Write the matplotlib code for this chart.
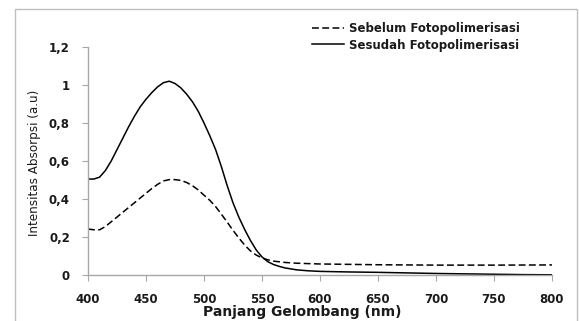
import numpy as np
import matplotlib
matplotlib.use('Agg')
import matplotlib.pyplot as plt
from matplotlib.ticker import FuncFormatter
from matplotlib.patches import Rectangle

# wavelength (nm) and absorption intensity (a.u)
wl_before = [400, 405, 410, 415, 420, 425, 430, 435, 440, 445, 450, 455, 460, 465,
             470, 475, 480, 485, 490, 495, 500, 505, 510, 515, 520, 525, 530, 535,
             540, 545, 550, 555, 560, 570, 580, 600, 650, 700, 750, 800]
abs_before = [0.242, 0.238, 0.238, 0.255, 0.28, 0.305, 0.33, 0.355, 0.38, 0.405,
              0.43, 0.455, 0.477, 0.495, 0.502, 0.502, 0.498, 0.487, 0.47, 0.448,
              0.42, 0.393, 0.36, 0.32, 0.278, 0.235, 0.195, 0.158, 0.127, 0.105,
              0.09, 0.08, 0.073, 0.066, 0.062, 0.058, 0.054, 0.052, 0.052, 0.053]

wl_after = [400, 405, 410, 415, 420, 425, 430, 435, 440, 445, 450, 455, 460, 465,
            470, 475, 480, 485, 490, 495, 500, 505, 510, 515, 520, 525, 530, 535,
            540, 545, 550, 555, 560, 565, 570, 580, 590, 600, 625, 650, 675, 700,
            725, 750, 775, 800]
abs_after = [0.505, 0.505, 0.515, 0.55, 0.60, 0.66, 0.72, 0.78, 0.835, 0.885,
             0.925, 0.96, 0.99, 1.012, 1.02, 1.008, 0.985, 0.952, 0.912, 0.862,
             0.80, 0.733, 0.66, 0.57, 0.47, 0.38, 0.305, 0.24, 0.182, 0.132,
             0.095, 0.07, 0.055, 0.045, 0.037, 0.027, 0.022, 0.019, 0.016, 0.014,
             0.011, 0.008, 0.006, 0.004, 0.002, 0.001]

labels = ['Sebelum Fotopolimerisasi', 'Sesudah Fotopolimerisasi']
xticks = [400, 450, 500, 550, 600, 650, 700, 750, 800]
yticks = [0, 0.2, 0.4, 0.6, 0.8, 1.0, 1.2]

fig = plt.figure(figsize=(5.79, 3.21), dpi=100)
# chart border
fig.patches.append(Rectangle((15/579, -0.05), 562/579, 1.05 - 9/321,
                             transform=fig.transFigure, fill=False,
                             edgecolor='#bfbfbf', linewidth=1.0))

ax = fig.add_axes([88/579, 46/321, 464/579, 228/321])
ax.plot(wl_before, abs_before, color='k', linewidth=1.1, dashes=(4.5, 2.2),
        label=labels[0])
ax.plot(wl_after, abs_after, color='k', linewidth=1.1, label=labels[1])

ax.set_xlim(400, 800)
ax.set_ylim(0, 1.2)
ax.set_xticks(xticks)
ax.set_yticks(yticks)
ax.yaxis.set_major_formatter(FuncFormatter(lambda v, p: ('%g' % round(v, 1)).replace('.', ',')))

for s in ['top', 'right']:
    ax.spines[s].set_visible(False)
for s in ['left', 'bottom']:
    ax.spines[s].set_color('#a6a6a6')
    ax.spines[s].set_linewidth(1.0)
ax.tick_params(axis='both', direction='out', length=4, color='#a6a6a6',
               labelsize=8.5, labelcolor='#1a1a1a')
ax.tick_params(axis='y', pad=9)
ax.tick_params(axis='x', pad=9)
for t in ax.get_xticklabels() + ax.get_yticklabels():
    t.set_fontweight('bold')

fig.text(35/579, 1 - 163/321, 'Intensitas Absorpsi (a.u)', rotation=90,
         ha='center', va='center', fontsize=9.5, color='#1a1a1a', fontstretch='condensed')
fig.text(302/579, 1 - 312/321, 'Panjang Gelombang (nm)', ha='center', va='center',
         fontsize=10, fontweight='bold', color='#1a1a1a')

leg = ax.legend(loc='upper left', bbox_to_anchor=(312/579, 1 - 22/321),
                bbox_transform=fig.transFigure, frameon=False, fontsize=8.5,
                handlelength=2.7, handletextpad=0.45, labelspacing=0.3,
                borderaxespad=0, borderpad=0)
for t in leg.get_texts():
    t.set_fontweight('bold')
    t.set_color('#1a1a1a')

fig.savefig('out.png', dpi=100)
